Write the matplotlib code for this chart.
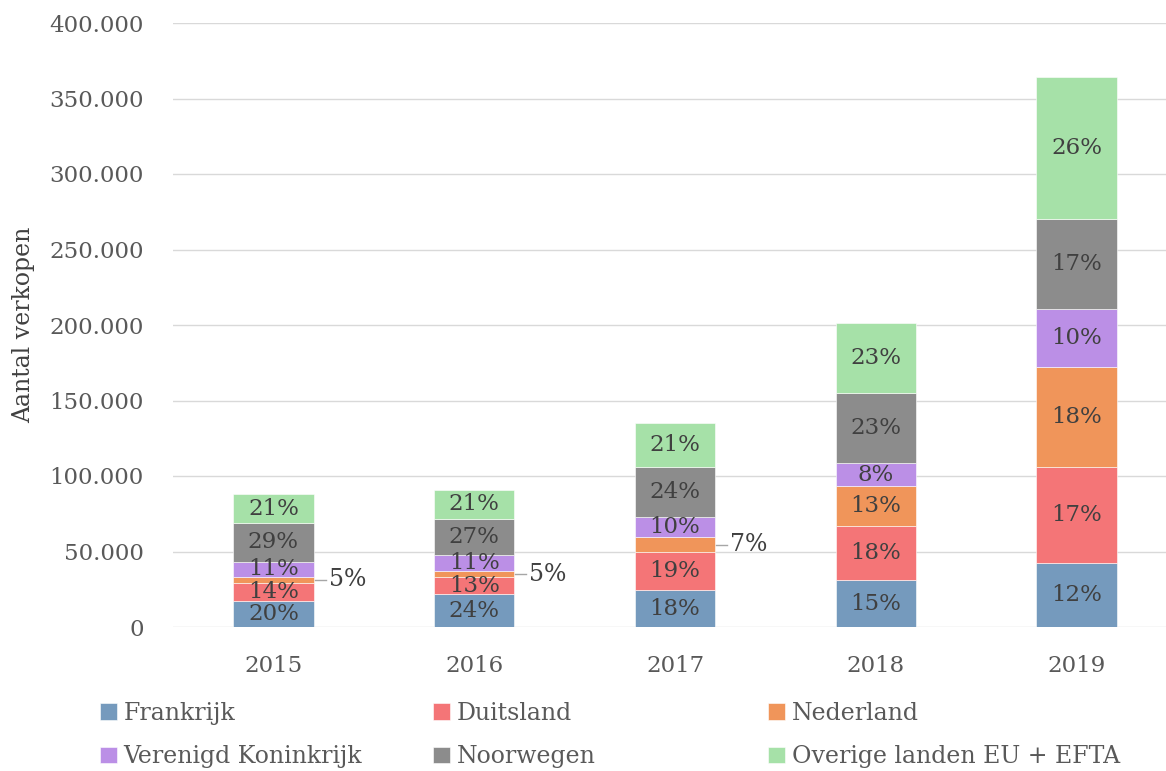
import numpy as np
import matplotlib.pyplot as plt

plt.rcParams['font.family'] = ['DejaVu Serif']

jaren = ['2015', '2016', '2017', '2018', '2019']
landen = ['Frankrijk', 'Duitsland', 'Nederland', 'Verenigd Koninkrijk',
          'Noorwegen', 'Overige landen EU + EFTA']
kleuren = ['#759abd', '#f47577', '#f0955a', '#bb8fe6', '#8c8c8c', '#a6e1a8']

# verkopen per land (x 1000), gelezen uit de grafiek
frankrijk = [16.9, 21.6, 24.4, 31.0, 42.2]
duitsland = [12.4, 11.3, 25.0, 35.7, 63.9]
nederland = [4.0, 4.2, 10.0, 26.5, 66.3]
vk = [10.0, 10.5, 13.7, 15.5, 38.1]
noorwegen = [25.6, 24.0, 32.8, 46.1, 59.7]
overig = [19.1, 19.3, 29.0, 46.5, 93.8]

# percentages zoals in de labels
pct = [
    ['20%', '24%', '18%', '15%', '12%'],
    ['14%', '13%', '19%', '18%', '17%'],
    ['5%', '5%', '7%', '13%', '18%'],
    ['11%', '11%', '10%', '8%', '10%'],
    ['29%', '27%', '24%', '23%', '17%'],
    ['21%', '21%', '21%', '23%', '26%'],
]
# labels die buiten de balk staan (land, jaar)
buiten = [(2, 0), (2, 1), (2, 2)]

reeksen = [frankrijk, duitsland, nederland, vk, noorwegen, overig]

fig = plt.figure(figsize=(11.66, 7.71), dpi=100)
ax = fig.add_axes([173 / 1166, 1 - 627 / 771, (1177 - 173) / 1166, (627 - 23) / 771])

x = np.arange(len(jaren))
breedte = 0.4
onder = np.zeros(len(jaren))
for i, reeks in enumerate(reeksen):
    waarden = np.array(reeks) * 1000
    ax.bar(x, waarden, breedte, bottom=onder, color=kleuren[i], label=landen[i],
           edgecolor='white', linewidth=0.4, zorder=3)
    for j in range(len(jaren)):
        midden = onder[j] + waarden[j] / 2
        if (i, j) in buiten:
            ax.plot([x[j] + breedte / 2 + 0.005, x[j] + breedte / 2 + 0.06], [midden, midden],
                    color='#a6a6a6', lw=1, zorder=4)
            ax.text(x[j] + breedte / 2 + 0.075, midden, pct[i][j], ha='left', va='center',
                    fontsize=17, color='#404040', zorder=5)
        else:
            ax.text(x[j], midden, pct[i][j], ha='center', va='center',
                    fontsize=16.5, color='#404040', zorder=5)
    onder += waarden

ax.set_xlim(-0.5, 4.5)
ax.set_ylim(0, 400000)
ax.set_yticks(np.arange(0, 400001, 50000))
ax.set_yticklabels([f'{int(v):,}'.replace(',', '.') for v in np.arange(0, 400001, 50000)])
ax.set_xticks(x)
ax.set_xticklabels(jaren)
ax.tick_params(axis='both', length=0, labelsize=16.5, colors='#595959')
ax.tick_params(axis='y', pad=21)
ax.tick_params(axis='x', pad=20)
ax.grid(axis='y', color='#d9d9d9', lw=1, zorder=0)
for s in ax.spines.values():
    s.set_visible(False)
ax.set_ylabel('Aantal verkopen', fontsize=17, color='#404040')
ax.yaxis.set_label_coords(-138 / 1004, 0.5)

# legenda: drie kolommen op vaste afstand
h, l = ax.get_legend_handles_labels()
kolom_x = [100, 433, 768]
for k in range(3):
    fig.legend([h[k], h[k + 3]], [l[k], l[k + 3]],
               loc='upper left', bbox_to_anchor=(kolom_x[k] / 1166, 1 - 702 / 771),
               frameon=False, fontsize=17, labelcolor='#595959', handlelength=0.7,
               handleheight=0.7, handletextpad=0.3, labelspacing=0.85,
               borderpad=0, borderaxespad=0)

fig.savefig('out.png', dpi=100)
